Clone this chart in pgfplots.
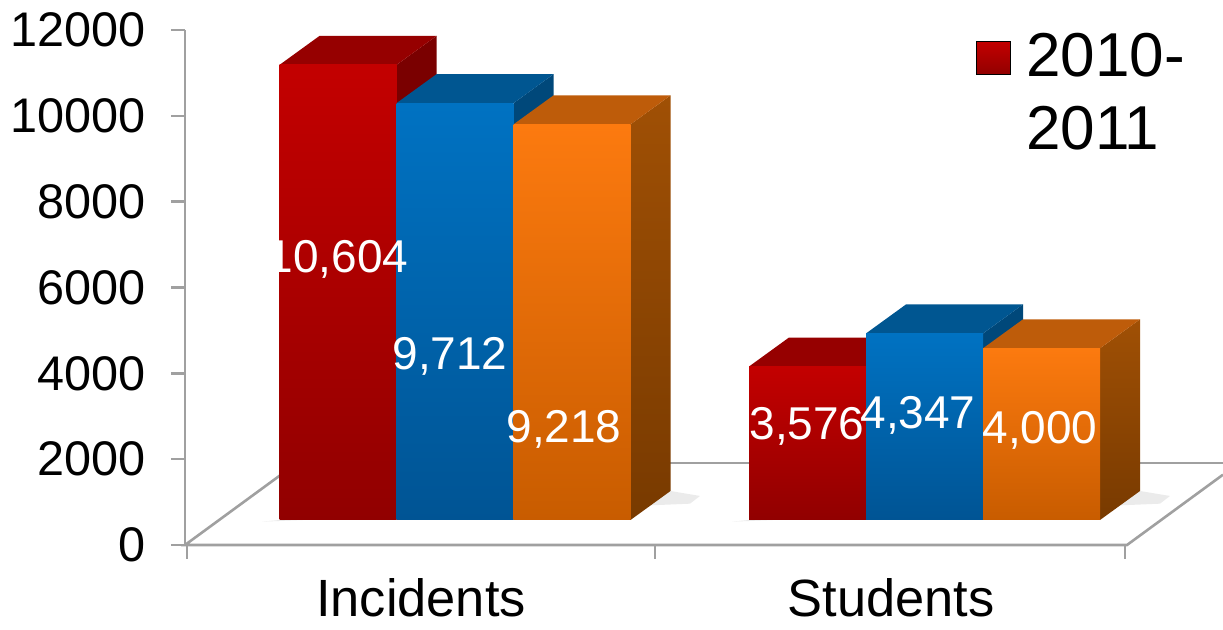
\documentclass[border=0pt]{standalone}
\usepackage{fontspec}
\setmainfont{Liberation Sans}
\usepackage{pgfplots}
\pgfplotsset{compat=1.18}
\definecolor{rTop}{RGB}{195,0,0}
\definecolor{rBot}{RGB}{145,0,0}
\definecolor{rCap}{RGB}{150,0,0}
\definecolor{rSide}{RGB}{122,0,0}
\definecolor{bTop}{RGB}{0,114,194}
\definecolor{bBot}{RGB}{0,84,148}
\definecolor{bCap}{RGB}{0,86,145}
\definecolor{bSide}{RGB}{0,72,122}
\definecolor{oTop}{RGB}{252,122,15}
\definecolor{oBot}{RGB}{200,92,0}
\definecolor{oCap}{RGB}{190,92,10}
\definecolor{oSideT}{RGB}{160,80,5}
\definecolor{oSideB}{RGB}{120,58,0}
\definecolor{floorc}{RGB}{160,160,160}
\begin{document}
\begin{tikzpicture}
\path[use as bounding box] (0,0) rectangle (611.5pt,315pt);
% main axis: ticks and floor (x in image pixels, y in data units)
\begin{axis}[
  at={(92.5pt,42.5pt)}, anchor=south west,
  scale only axis, width=519pt, height=257.5pt,
  xmin=185, xmax=1223, ymin=0, ymax=12000,
  clip=false,
  axis line style={draw=none},
  tick pos=left, tick align=outside,
  major tick length=7pt,
  tick style={draw=floorc, line width=1.2pt},
  xtick={187,655,1125}, xticklabels={},
  ytick={0,2000,4000,6000,8000,10000,12000},
  scaled y ticks=false,
  yticklabel style={font=\fontsize{24.3}{24.3}\selectfont, xshift=-9pt},
  /pgf/number format/1000 sep={},
  /pgf/number format/assume math mode=true,
]
\addplot[draw=floorc, line width=1.3pt] coordinates {(297,1910.7) (1223,1910.7)};
\addplot[draw=floorc, line width=1.3pt] coordinates {(297,1910.7) (185,0) (1127,0) (1223,1637.8)};
\addplot[draw=floorc, line width=1.3pt] coordinates {(185,0) (185,12000)};
\node[anchor=base, font=\fontsize{26.2}{26.2}\selectfont] at (axis cs:421,-1677.7) {Incidents};
\node[anchor=base, font=\fontsize{26.2}{26.2}\selectfont] at (axis cs:891,-1677.7) {Students};
\end{axis}
% bars axis: same scale, bars start at the floor under the bars
\begin{axis}[
  at={(92.5pt,42.5pt)}, anchor=south west,
  scale only axis, width=519pt, height=257.5pt,
  xmin=185, xmax=1223, ymin=-582.5, ymax=11417.5,
  hide axis, clip=false,
  legend style={draw=none, fill=none, at={(axis description cs:0.762,0.995)}, anchor=north west,
    font=\fontsize{31}{36.5}\selectfont, inner sep=0pt, column sep=0pt,
    nodes={align=left, inner sep=0pt}},
]
\addlegendimage{legend image code/.code={
  \fill[top color=rTop, bottom color=rBot] (0pt,9pt) rectangle (17pt,25.5pt);
  \path (24.5pt,0pt);}}
\addlegendentry{2010-\\2011}
% soft shadows at the bar bases
\addplot[forget plot, fill=black, fill opacity=0.08, draw=none] coordinates {(262,-40) (279.5,0) (670.5,675.7) (700,560) (690,380)} -- cycle;
\addplot[forget plot, fill=black, fill opacity=0.08, draw=none] coordinates {(732,-40) (749,0) (1140,675.7) (1170,560) (1160,380)} -- cycle;
% Incidents - red
\addplot[forget plot, fill=rSide, draw=none] coordinates {(396.5,0) (396.5,10604) (436.5,11279.7) (436.5,675.7)} -- cycle;
\addplot[forget plot, fill=rCap, draw=none] coordinates {(279.5,10604) (319.5,11279.7) (436.5,11279.7) (396.5,10604)} -- cycle;
\addplot[forget plot, ybar, bar width=117, bar shift=0pt, draw=none, top color=rTop, bottom color=rBot] coordinates {(338,10604)};
% Incidents - blue
\addplot[forget plot, fill=bSide, draw=none] coordinates {(513.5,0) (513.5,9712) (553.5,10387.7) (553.5,675.7)} -- cycle;
\addplot[forget plot, fill=bCap, draw=none] coordinates {(396.5,9712) (436.5,10387.7) (553.5,10387.7) (513.5,9712)} -- cycle;
\addplot[forget plot, ybar, bar width=117, bar shift=0pt, draw=none, top color=bTop, bottom color=bBot] coordinates {(455,9712)};
% Incidents - orange
\addplot[forget plot, draw=none, top color=oSideT, bottom color=oSideB] coordinates {(630.5,0) (630.5,9218) (670.5,9893.7) (670.5,675.7)} -- cycle;
\addplot[forget plot, fill=oCap, draw=none] coordinates {(513.5,9218) (553.5,9893.7) (670.5,9893.7) (630.5,9218)} -- cycle;
\addplot[forget plot, ybar, bar width=117, bar shift=0pt, draw=none, top color=oTop, bottom color=oBot] coordinates {(572,9218)};
% Students - red
\addplot[forget plot, fill=rSide, draw=none] coordinates {(866,0) (866,3576) (906,4251.7) (906,675.7)} -- cycle;
\addplot[forget plot, fill=rCap, draw=none] coordinates {(749,3576) (789,4251.7) (906,4251.7) (866,3576)} -- cycle;
\addplot[forget plot, ybar, bar width=117, bar shift=0pt, draw=none, top color=rTop, bottom color=rBot] coordinates {(807.5,3576)};
% Students - blue
\addplot[forget plot, fill=bSide, draw=none] coordinates {(983,0) (983,4347) (1023,5022.7) (1023,675.7)} -- cycle;
\addplot[forget plot, fill=bCap, draw=none] coordinates {(866,4347) (906,5022.7) (1023,5022.7) (983,4347)} -- cycle;
\addplot[forget plot, ybar, bar width=117, bar shift=0pt, draw=none, top color=bTop, bottom color=bBot] coordinates {(924.5,4347)};
% Students - orange
\addplot[forget plot, draw=none, top color=oSideT, bottom color=oSideB] coordinates {(1100,0) (1100,4000) (1140,4675.7) (1140,675.7)} -- cycle;
\addplot[forget plot, fill=oCap, draw=none] coordinates {(983,4000) (1023,4675.7) (1140,4675.7) (1100,4000)} -- cycle;
\addplot[forget plot, ybar, bar width=117, bar shift=0pt, draw=none, top color=oTop, bottom color=oBot] coordinates {(1041.5,4000)};
% value labels
\begin{scope}[every node/.style={white, anchor=base, inner sep=0pt, font=\fontsize{23}{23}\selectfont}]
\node at (axis cs:338,5755.3) {10,604};
\node at (axis cs:450,3495.2) {9,712};
\node at (axis cs:564,1794.2) {9,218};
\node at (axis cs:807,1864.1) {3,576};
\node at (axis cs:918,2120.4) {4,347};
\node at (axis cs:1040,1770.9) {4,000};
\end{scope}
\end{axis}
\end{tikzpicture}
\end{document}
